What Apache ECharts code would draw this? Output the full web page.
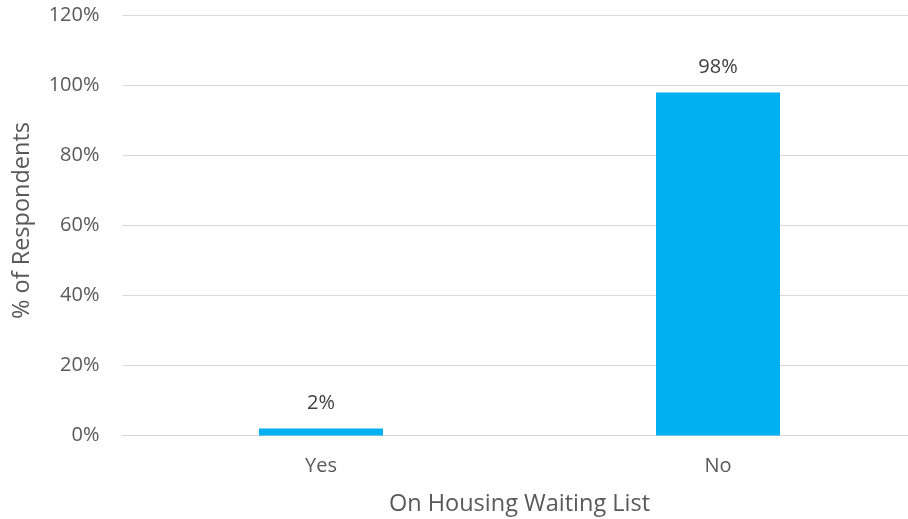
<!DOCTYPE html>
<html>
<head>
<meta charset="utf-8">
<script src="https://cdn.jsdelivr.net/npm/echarts@6/dist/echarts.min.js"></script>
<style>html,body{margin:0;padding:0;background:#fff;}#c{width:908px;height:519px;}</style>
</head>
<body>
<div id="c"></div>
<script>
const categories = ["Yes", "No"];
const values = [2, 98];
const yTicks = [0, 20, 40, 60, 80, 100, 120];

const chart = echarts.init(document.getElementById('c'));
const font = "'Open Sans', 'Noto Sans', sans-serif";
chart.setOption({
  animation: false,
  grid: { left: 122.5, top: 15.5, width: 794, height: 420, outerBoundsMode: 'none', containLabel: false },
  xAxis: {
    type: 'category',
    data: categories,
    name: 'On Housing Waiting List',
    nameLocation: 'middle',
    nameGap: 57,
    nameTextStyle: { color: '#595959', fontSize: 23.5, fontFamily: font },
    axisLine: { show: true, lineStyle: { color: '#d9d9d9', width: 1 } },
    axisTick: { show: false },
    axisLabel: { color: '#595959', fontSize: 20, fontFamily: font, margin: 21 }
  },
  yAxis: {
    type: 'value',
    min: yTicks[0],
    max: yTicks[yTicks.length - 1],
    interval: 20,
    name: '% of Respondents',
    nameLocation: 'middle',
    nameGap: 88,
    nameTextStyle: { color: '#595959', fontSize: 23.5, fontFamily: font, padding: [0, 0, 0, 10] },
    axisLine: { show: false },
    axisTick: { show: false },
    splitLine: { lineStyle: { color: '#d9d9d9', width: 1 } },
    axisLabel: { color: '#595959', fontSize: 20, fontFamily: font, margin: 23, formatter: v => v + '%' }
  },
  series: [{
    type: 'bar',
    data: values,
    barWidth: 124,
    itemStyle: { color: '#00B0F0' },
    label: {
      show: true,
      position: 'top',
      distance: 15,
      color: '#404040',
      fontSize: 20,
      fontFamily: font,
      formatter: p => p.value + '%'
    }
  }]
});
</script>
</body>
</html>
